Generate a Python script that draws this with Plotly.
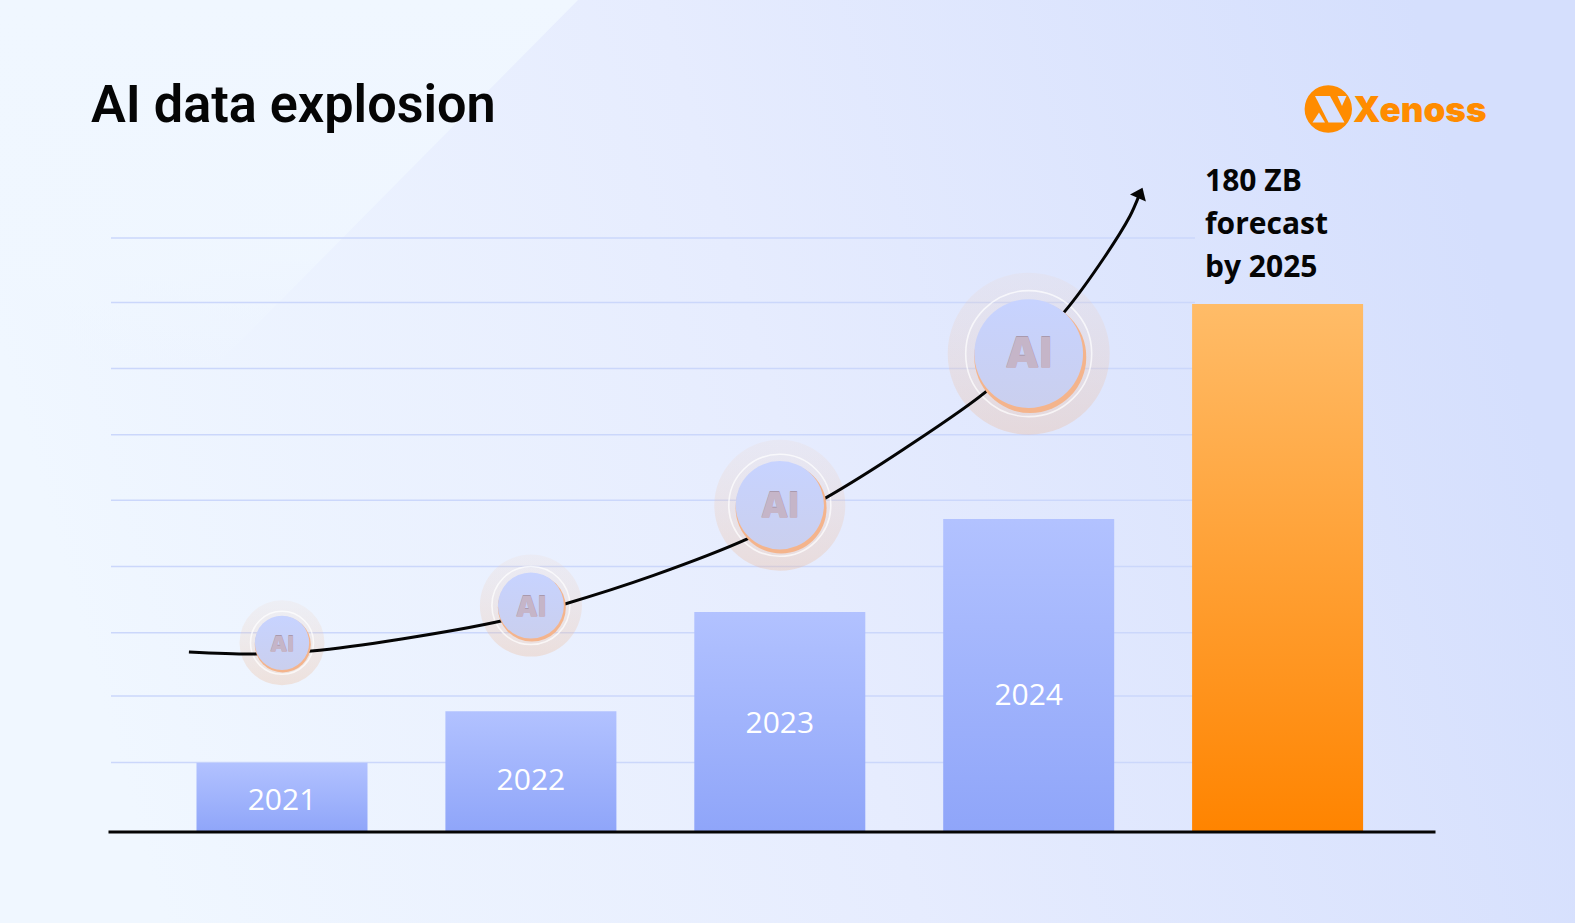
"""AI data explosion: bars with a growth curve and AI badges."""

import base64

import plotly.graph_objects as go

W, H = 1575, 923

# Data, in zettabytes
years = [2021, 2022, 2023, 2024, 2025]
values = [23.6, 41.2, 75, 106.7, 180]
bar_labels = ["2021", "2022", "2023", "2024"]
label_y = [10, 16.9, 36.4, 45.7]
grid_values = [23.7, 46.4, 67.9, 90.5, 113.1, 135.4, 158, 180.5, 202.5]

curve_x = [2020.626, 2020.876, 2021.118, 2021.481, 2021.885, 2022.127, 2022.490, 2022.874,
           2023.176, 2023.499, 2023.842, 2024.145, 2024.307, 2024.407, 2024.445]
curve_y = [61.4, 60.7, 61.7, 65.8, 72.0, 77.5, 87.4, 100.1,
           113.5, 130.6, 151.1, 177.5, 196.3, 210, 217.3]

badge_x = [2021, 2022, 2023, 2024]
badge_y = [64.5, 77.2, 111.4, 163.1]
ai_y = [63.2, 75.8, 110, 161.7]
halo_size = [85, 102, 131, 162]
ring_size = [63, 78, 102, 126]
disc_size = [56, 68, 91, 112]
ai_size = [22, 28, 35, 43]

forecast_lines = ["180 ZB", "forecast", "by 2025"]
forecast_y = [222.6, 207.8, 193]

# Axis scale: pixels per year / per ZB
PX_YEAR = 248.9
PX_ZB = 2.933
x_range = [2021 - 282 / PX_YEAR, 2021 + (W - 282) / PX_YEAR]
y_range = [-(H - 832) / PX_ZB, 832 / PX_ZB]


def pxx(x):
    return x / W


def pxy(y):
    return 1 - y / H


# Page background
bg_svg = f"""<svg xmlns="http://www.w3.org/2000/svg" width="{W}" height="{H}" viewBox="0 0 {W} {H}">
<defs>
<linearGradient id="a" gradientUnits="userSpaceOnUse" x1="100" y1="700" x2="1500" y2="300"><stop offset="0" stop-color="#f0f7ff"/><stop offset="0.5" stop-color="#e6ecfe"/><stop offset="1" stop-color="#d5dffd"/></linearGradient>
<linearGradient id="b" gradientUnits="userSpaceOnUse" x1="0" y1="0" x2="0" y2="370"><stop offset="0" stop-color="#f0f7ff" stop-opacity="1"/><stop offset="0.7" stop-color="#f0f7ff" stop-opacity="0.8"/><stop offset="1" stop-color="#f0f7ff" stop-opacity="0"/></linearGradient>
</defs>
<rect width="{W}" height="{H}" fill="url(#a)"/>
<polygon points="0,0 578,0 212,370 0,370" fill="url(#b)"/>
</svg>"""
bg_uri = "data:image/svg+xml;base64," + base64.b64encode(bg_svg.encode()).decode()

fig = go.Figure()

fig.add_trace(go.Bar(x=years, y=values, width=171 / PX_YEAR,
                     marker=dict(color=["#a0b3fb"] * 4 + ["#ffa030"], line=dict(width=0))))

fig.add_trace(go.Scatter(x=badge_x[:4], y=label_y, mode="text", text=bar_labels,
                         textfont=dict(family="Open Sans", size=30, color="white")))

# Badge halo and white ring go under the curve
fig.add_trace(go.Scatter(x=badge_x, y=badge_y, mode="markers",
                         marker=dict(size=halo_size, color="rgba(238,205,185,0.14)", opacity=1, line=dict(width=0),
                                     gradient=dict(type="vertical", color="rgba(238,180,140,0.30)"))))
fig.add_trace(go.Scatter(x=badge_x, y=badge_y, mode="markers",
                         marker=dict(size=ring_size, color="rgba(0,0,0,0)", opacity=1,
                                     line=dict(width=1.6, color="rgba(255,255,255,0.7)"))))

fig.add_trace(go.Scatter(x=curve_x, y=curve_y, mode="lines+markers",
                         line=dict(color="#050505", width=3, shape="spline", smoothing=0.8),
                         marker=dict(symbol="triangle-up", angleref="previous", color="#050505", opacity=1,
                                     size=[0] * (len(curve_x) - 1) + [15], line=dict(width=0))))

# Orange crescent sits slightly below and right of the blue disc
fig.add_trace(go.Scatter(x=[b + 0.014 * s / PX_YEAR for b, s in zip(badge_x, disc_size)],
                         y=[b - 0.03 * s / PX_ZB for b, s in zip(badge_y, disc_size)],
                         mode="markers",
                         marker=dict(size=disc_size, color="#f4b48c", opacity=1, line=dict(width=0))))
fig.add_trace(go.Scatter(x=badge_x, y=badge_y, mode="markers",
                         marker=dict(size=[s * 0.97 for s in disc_size], color="#c7d3ff", opacity=1,
                                     line=dict(width=0),
                                     gradient=dict(type="vertical", color="#cacfee"))))
fig.add_trace(go.Scatter(x=badge_x, y=ai_y, mode="text", text=["AI"] * 4,
                         textfont=dict(family="Inter", size=ai_size, color="#c5b5c8", weight=900,
                                       shadow="0px -1px 0px #a99aae")))

for text, y in zip(forecast_lines, forecast_y):
    fig.add_annotation(x=2025, xshift=-(1277.7 - 1203), y=y, xref="x", yref="y", text=text, showarrow=False,
                       xanchor="left", font=dict(family="Open Sans", size=30, color="#050505", weight=700))

fig.add_annotation(x=pxx(89), y=pxy(105), xref="paper", yref="paper", text="AI data explosion",
                   showarrow=False, xanchor="left", yanchor="middle",
                   font=dict(family="Roboto", size=52.2, color="#050505", weight=600))
fig.add_annotation(x=pxx(1351), y=pxy(109), xref="paper", yref="paper", text="Xenoss",
                   showarrow=False, xanchor="left", yanchor="middle",
                   font=dict(family="Inter", size=35, color="#ff8c00", weight=900))

shapes = []
for g in grid_values:
    shapes.append(dict(type="line", layer="below", xref="x", yref="y", x0=x_range[0] + 111 / PX_YEAR,
                       x1=x_range[0] + 1195 / PX_YEAR, y0=g, y1=g,
                       line=dict(color="#cbd7fb", width=1.5)))
# Baseline
shapes.append(dict(type="line", layer="above", xref="x", yref="y", x0=x_range[0] + 108.5 / PX_YEAR,
                   x1=x_range[0] + 1435.5 / PX_YEAR, y0=0, y1=0,
                   line=dict(color="#050505", width=3)))


def logo_path(points):
    return "M" + " L".join(f"{pxx(x):.5f},{pxy(y):.5f}" for x, y in points) + " Z"


# Logo mark
shapes.append(dict(type="circle", xref="paper", yref="paper", fillcolor="#ff8c00", line=dict(width=0),
                   x0=pxx(1304.6), x1=pxx(1352), y0=pxy(132.7), y1=pxy(85.3)))
for pts in ([(1315, 96), (1330, 96), (1344.5, 122.5), (1328.5, 122.5)],
            ((1337.5, 96), (1346.5, 96), (1342, 106)),
            ((1312.5, 122.5), (1325, 122.5), (1319, 112.5))):
    shapes.append(dict(type="path", xref="paper", yref="paper", path=logo_path(pts),
                       fillcolor="#d8e1fd", line=dict(width=0)))

fig.update_layout(
    width=W, height=H, margin=dict(l=0, r=0, t=0, b=0),
    showlegend=False, hovermode=False,
    paper_bgcolor="#e8eefe", plot_bgcolor="rgba(0,0,0,0)",
    xaxis=dict(range=x_range, visible=False, fixedrange=True),
    yaxis=dict(range=y_range, visible=False, fixedrange=True),
    shapes=shapes,
    images=[dict(source=bg_uri, xref="paper", yref="paper", x=0, y=1, sizex=1, sizey=1,
                 xanchor="left", yanchor="top", sizing="stretch", layer="below")],
)

# Plotly bars and lines have no gradient fill, so add them once the plot is drawn
post = """
document.documentElement.style.overflow = 'hidden';
document.body.style.margin = '0';
var gd = document.getElementById('{plot_id}');
function addGrad(defs, id, attrs, stops) {
  if (document.getElementById(id)) return;
  var g = document.createElementNS('http://www.w3.org/2000/svg', 'linearGradient');
  g.id = id;
  for (var k in attrs) g.setAttribute(k, attrs[k]);
  stops.forEach(function (s) {
    var st = document.createElementNS('http://www.w3.org/2000/svg', 'stop');
    st.setAttribute('offset', s[0]); st.setAttribute('stop-color', s[1]); st.setAttribute('stop-opacity', s[2]);
    g.appendChild(st);
  });
  defs.appendChild(g);
}
function paint() {
  var svg = gd.querySelector('svg.main-svg');
  var defs = svg.querySelector('defs');
  var v = {x1: 0, y1: 0, x2: 0, y2: 1};
  addGrad(defs, 'barBlue', v, [[0, '#b2c2ff', 1], [1, '#8fa5f9', 1]]);
  addGrad(defs, 'barOrange', v, [[0, '#ffbc68', 1], [1, '#ff8400', 1]]);
  addGrad(defs, 'gridFade', {gradientUnits: 'userSpaceOnUse', x1: 111, y1: 0, x2: 1195, y2: 0},
          [[0, '#cbd7fb', 1], [0.7, '#cbd7fb', 0.8], [1, '#cbd7fb', 0.1]]);
  gd.querySelectorAll('.barlayer .point path').forEach(function (p, i) {
    p.style.fill = i < 4 ? 'url(#barBlue)' : 'url(#barOrange)';
  });
  gd.querySelectorAll('.layer-below .shapelayer path').forEach(function (p) {
    p.style.stroke = 'url(#gridFade)';
  });
}
gd.on('plotly_afterplot', paint);
paint();
window.dispatchEvent(new Event('resize'));
"""

fig.write_html("out.html", config={"displayModeBar": False}, post_script=post)
